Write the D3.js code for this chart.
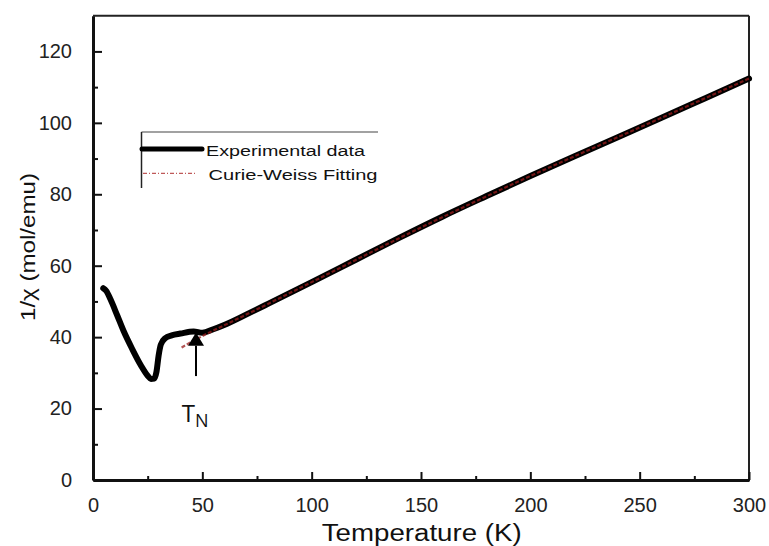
<!DOCTYPE html>
<html>
<head>
<meta charset="utf-8">
<style>
  body { margin: 0; background: #fff; }
  svg { display: block; font-family: "Liberation Sans", Arial, sans-serif; }
</style>
</head>
<body>
<svg width="769" height="546"></svg>
<script src="https://cdnjs.cloudflare.com/ajax/libs/d3/7.8.5/d3.min.js"></script>
<script>

// experimental 1/chi vs T
var tempExp = [4.7, 6, 8, 11, 14, 18, 22, 25, 26.5, 28, 29, 30, 31, 33, 36, 40, 46, 50,
               55, 60, 70, 80, 100, 120, 140, 160, 180, 200, 220, 240, 260, 280, 300];
var chiInvExp = [53.7, 53.0, 50.6, 46.2, 41.7, 36.6, 32.0, 29.2, 28.3, 28.4, 30.2, 34.8, 37.9, 39.7, 40.5, 41.0, 41.6, 41.2,
                 42.2, 43.4, 46.3, 49.3, 55.4, 61.6, 67.8, 73.8, 79.5, 85.1, 90.6, 96.0, 101.4, 106.9, 112.4];

// Curie-Weiss fit
var tempFit = [40.5, 50, 60, 80, 100, 150, 200, 250, 300];
var chiInvFit = [37.1, 40.3, 43.3, 49.3, 55.4, 70.7, 85.1, 98.7, 112.4];

var xTicks = [0, 50, 100, 150, 200, 250, 300];
var yTicks = [0, 20, 40, 60, 80, 100, 120];
var legendLabels = ["Experimental data", "Curie-Weiss Fitting"];

// T_N arrow: temperature, tail / arrow base / tip values
var tnT = 47.1, tnTail = 29.1, tnBase = 37.6, tnTip = 41.3;

var svg = d3.select("svg");

var x = d3.scaleLinear().domain([0, 300]).range([93, 749]);
var y = d3.scaleLinear().domain([0, 130]).range([480, 15.7]);

// frame (top & right thinner)
svg.append("line").attr("x1", 93).attr("x2", 749).attr("y1", 15.7).attr("y2", 15.7)
  .attr("stroke", "#222").attr("stroke-width", 2);
svg.append("line").attr("x1", 749).attr("x2", 749).attr("y1", 15.7).attr("y2", 481)
  .attr("stroke", "#222").attr("stroke-width", 2);

// x axis, ticks pointing in
var xAxis = svg.append("g").attr("transform", "translate(0,480)")
  .call(d3.axisBottom(x).tickValues(xTicks).tickSizeInner(-8).tickSizeOuter(0).tickPadding(18));
svg.append("g").attr("transform", "translate(0,480)")
  .call(d3.axisBottom(x).tickValues(d3.range(25, 300, 50)).tickSize(-4).tickFormat(""))
  .call(function(g) { g.select(".domain").remove(); });

// y axis, ticks pointing in
var yAxis = svg.append("g").attr("transform", "translate(93,0)")
  .call(d3.axisLeft(y).tickValues(yTicks).tickSizeInner(-9).tickSizeOuter(0).tickPadding(21));
svg.append("g").attr("transform", "translate(93,0)")
  .call(d3.axisLeft(y).tickValues(d3.range(10, 130, 20)).tickSize(-5).tickFormat(""))
  .call(function(g) { g.select(".domain").remove(); });

svg.selectAll(".domain").attr("stroke", "#111").attr("stroke-width", 3);
svg.selectAll(".tick line").attr("stroke", "#111").attr("stroke-width", 2);
svg.selectAll(".tick text").attr("font-size", 20).attr("fill", "#222")
  .attr("font-family", "Liberation Sans, Arial, sans-serif");
xAxis.selectAll(".tick text").attr("dy", "0.71em");

// axis titles
svg.append("text").attr("x", 421.7).attr("y", 541).attr("text-anchor", "middle")
  .attr("font-size", 23).attr("fill", "#111")
  .attr("textLength", 200).attr("lengthAdjust", "spacingAndGlyphs")
  .text("Temperature (K)");
svg.append("text").attr("transform", "translate(35,247) rotate(-90)").attr("text-anchor", "middle")
  .attr("font-size", 21).attr("fill", "#111")
  .attr("textLength", 148).attr("lengthAdjust", "spacingAndGlyphs")
  .text("1/χ (mol/emu)");

// curves
var expData = tempExp.map(function(t, i) { return [t, chiInvExp[i]]; });
var fitData = tempFit.map(function(t, i) { return [t, chiInvFit[i]]; });

var line = d3.line()
  .x(function(d) { return x(d[0]); })
  .y(function(d) { return y(d[1]); })
  .curve(d3.curveMonotoneX);

svg.append("path").datum(expData).attr("d", line)
  .attr("fill", "none").attr("stroke", "#000").attr("stroke-width", 6)
  .attr("stroke-linejoin", "round").attr("stroke-linecap", "round");

svg.append("path").datum(fitData).attr("d", line)
  .attr("fill", "none").attr("stroke", "#9a1e1e").attr("stroke-width", 2.2)
  .attr("stroke-dasharray", "4,2").attr("stroke-opacity", 0.75);

// T_N arrow
svg.append("line").attr("x1", x(tnT)).attr("x2", x(tnT)).attr("y1", y(tnTail)).attr("y2", y(tnBase))
  .attr("stroke", "#000").attr("stroke-width", 2);
svg.append("path")
  .attr("d", "M" + (x(tnT) - 8) + "," + y(tnBase) + "L" + x(tnT) + "," + y(tnTip) + "L" + (x(tnT) + 8) + "," + y(tnBase) + "Z")
  .attr("fill", "#000");

var tn = svg.append("text").attr("x", x(40.6)).attr("y", y(16.3))
  .attr("font-family", "Open Sans, Liberation Sans, sans-serif").attr("fill", "#111");
tn.append("tspan").attr("font-size", 24).text("T");
tn.append("tspan").attr("font-size", 18).attr("dy", 5).text("N");

// legend
var lg = svg.append("g");
lg.append("line").attr("x1", 141.5).attr("x2", 378).attr("y1", 132).attr("y2", 132)
  .attr("stroke", "#444").attr("stroke-width", 1.2);
lg.append("line").attr("x1", 141.5).attr("x2", 141.5).attr("y1", 132).attr("y2", 188)
  .attr("stroke", "#222").attr("stroke-width", 1.5);
lg.append("line").attr("x1", 142).attr("x2", 202).attr("y1", 149).attr("y2", 149)
  .attr("stroke", "#000").attr("stroke-width", 5).attr("stroke-linecap", "round");
lg.append("line").attr("x1", 143).attr("x2", 195).attr("y1", 173.3).attr("y2", 173.3)
  .attr("stroke", "#b03030").attr("stroke-width", 1).attr("stroke-dasharray", "4,2,1,2");
lg.append("text").attr("x", 206).attr("y", 155.5).attr("font-size", 15.5).attr("fill", "#111")
  .attr("textLength", 159).attr("lengthAdjust", "spacingAndGlyphs").text(legendLabels[0]);
lg.append("text").attr("x", 208.5).attr("y", 179.5).attr("font-size", 15.5).attr("fill", "#111")
  .attr("textLength", 169).attr("lengthAdjust", "spacingAndGlyphs").text(legendLabels[1]);

</script>
</body>
</html>
